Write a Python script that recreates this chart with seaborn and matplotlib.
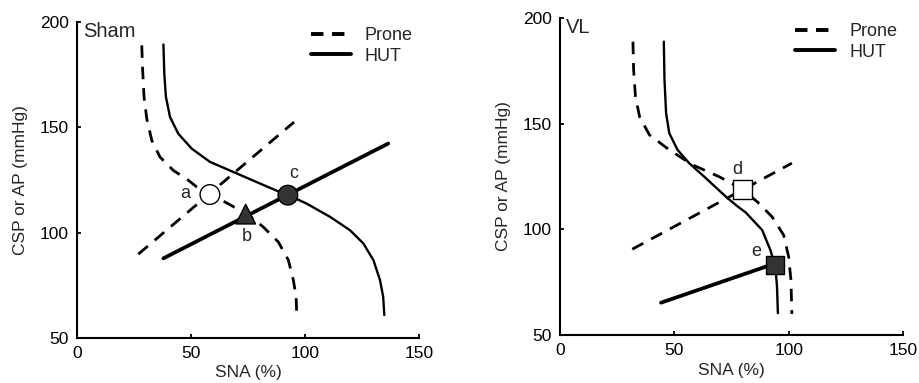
import numpy as np
import pandas as pd
import seaborn as sns
import matplotlib
matplotlib.use('Agg')
import matplotlib.pyplot as plt
from matplotlib.lines import Line2D

# Sham panel
sham_prone_x = [28.4, 28.8, 29.4, 30.6, 32.8, 36.4, 42.2, 48.8, 52.5, 58.3,
                65.0, 70.0, 74.4, 81.7, 88.3, 92.7, 94.9, 96.1, 96.4]
sham_prone_y = [188.9, 177.0, 164.4, 154.1, 143.8, 135.9, 129.6, 124.9, 121.7,
                118.1, 114.5, 111.5, 109.1, 102.7, 95.6, 87.0, 77.5, 69.6, 60.9]
sham_hut_x = [37.9, 38.3, 39.0, 40.8, 44.4, 50.3, 58.3, 68.6, 80.3, 90.5,
              92.7, 100.7, 111.0, 119.7, 125.6, 130.0, 132.9, 134.3, 134.8]
sham_hut_y = [189.3, 175.4, 164.4, 154.9, 147.0, 139.9, 133.6, 128.8, 123.3,
              118.6, 117.8, 113.8, 107.5, 101.2, 94.9, 87.0, 77.5, 69.6, 60.9]
sham_prone_ap_x = [26.9, 95.2]
sham_prone_ap_y = [89.8, 152.5]
sham_hut_ap_x = [37.9, 136.5]
sham_hut_ap_y = [87.8, 142.3]

# VL panel
vl_prone_x = [31.9, 32.2, 33.0, 34.8, 39.1, 47.8, 58.0, 69.6, 79.7, 86.2,
              92.7, 97.8, 100.0, 101.0, 101.4]
vl_prone_y = [188.8, 175.4, 162.8, 153.3, 144.7, 137.6, 130.5, 124.9, 119.0,
              113.1, 106.0, 97.3, 87.0, 76.0, 60.0]
vl_hut_x = [45.4, 45.7, 46.4, 47.8, 51.4, 56.5, 63.8, 72.5, 77.5, 81.2,
            88.4, 92.0, 94.2, 94.9, 95.3]
vl_hut_y = [188.8, 170.7, 154.9, 145.5, 137.6, 131.3, 124.2, 115.5, 111.0,
            108.0, 99.7, 90.2, 82.3, 72.9, 60.3]
vl_prone_ap_x = [31.6, 101.4]
vl_prone_ap_y = [90.6, 131.3]
vl_hut_ap_x = [44.2, 94.2]
vl_hut_ap_y = [65.3, 83.9]

# operating points
sham_pts = ['a', 'b', 'c']
sham_pts_x = [58.3, 74.0, 92.5]
sham_pts_y = [118.1, 108.8, 117.8]
sham_lbl_x = [47.7, 74.4, 94.9]
sham_lbl_y = [118.6, 98.0, 128.0]
vl_pts = ['d', 'e']
vl_pts_x = [79.8, 94.0]
vl_pts_y = [119.0, 83.1]
vl_lbl_x = [77.5, 86.0]
vl_lbl_y = [128.4, 89.4]

x_ticks = [0, 50, 100, 150]
y_ticks = [50, 100, 150, 200]

DASH = (0, (4.5, 3.2))
GREY = '#333333'

sns.set_style('ticks')
plt.rcParams['font.family'] = ['Liberation Sans', 'DejaVu Sans']


def draw_panel(ax, curves, title):
    for xs, ys, ls, lw in curves:
        sns.lineplot(x=xs, y=ys, ax=ax, sort=False, estimator=None,
                     color='black', linewidth=lw, linestyle=ls,
                     legend=False, solid_joinstyle='round')
    ax.set_xlim(0, 150)
    ax.set_ylim(50, 200)
    ax.set_xticks(x_ticks)
    ax.set_yticks(y_ticks)
    ax.tick_params(direction='in', length=3, width=1.3, labelsize=12.5,
                   colors='black', pad=6)
    for side in ['left', 'bottom']:
        ax.spines[side].set_linewidth(1.5)
        ax.spines[side].set_color('black')
    sns.despine(ax=ax)
    ax.set_xlabel('SNA (%)', fontsize=12.5, labelpad=3)
    ax.set_ylabel('CSP or AP (mmHg)', fontsize=12.5, labelpad=8)
    ax.text(0.018, 1.0, title, transform=ax.transAxes, va='top',
            ha='left', fontsize=14.5)
    handles = [Line2D([], [], color='black', lw=2.8, linestyle=(0, (3.2, 2.2))),
               Line2D([], [], color='black', lw=2.8)]
    ax.legend(handles=handles, labels=['Prone', 'HUT'], frameon=False,
              loc='upper right', bbox_to_anchor=(1.03, 1.035),
              fontsize=13, handlelength=2.2, handletextpad=0.8,
              labelspacing=0.2)


fig = plt.figure(figsize=(9.2, 3.83), dpi=100)
ax1 = fig.add_axes([0.0837, 0.1175, 0.3717, 0.8251])
ax2 = fig.add_axes([0.6087, 0.1253, 0.3728, 0.8277])

draw_panel(ax1, [(sham_prone_x, sham_prone_y, DASH, 2.0),
                 (sham_hut_x, sham_hut_y, '-', 1.7),
                 (sham_prone_ap_x, sham_prone_ap_y, DASH, 2.0),
                 (sham_hut_ap_x, sham_hut_ap_y, '-', 2.7)], 'Sham')
draw_panel(ax2, [(vl_prone_x, vl_prone_y, DASH, 2.0),
                 (vl_hut_x, vl_hut_y, '-', 1.7),
                 (vl_prone_ap_x, vl_prone_ap_y, DASH, 2.0),
                 (vl_hut_ap_x, vl_hut_ap_y, '-', 2.7)], 'VL')

# markers
sham_df = pd.DataFrame({'x': sham_pts_x, 'y': sham_pts_y, 'pt': sham_pts})
sns.scatterplot(data=sham_df, x='x', y='y', hue='pt', style='pt',
                markers={'a': 'o', 'b': '^', 'c': 'o'},
                palette={'a': 'white', 'b': GREY, 'c': GREY},
                s=200, edgecolor='black', linewidth=1.0, ax=ax1,
                legend=False, zorder=5)
vl_df = pd.DataFrame({'x': vl_pts_x, 'y': vl_pts_y, 'pt': vl_pts})
sns.scatterplot(data=vl_df, x='x', y='y', hue='pt', style='pt',
                markers={'d': 's', 'e': 's'},
                palette={'d': 'white', 'e': GREY},
                s=180, edgecolor='black', linewidth=1.0, ax=ax2,
                legend=False, zorder=5)

for name, lx, ly in zip(sham_pts, sham_lbl_x, sham_lbl_y):
    ax1.text(lx, ly, name, ha='center', va='center', fontsize=13)
for name, lx, ly in zip(vl_pts, vl_lbl_x, vl_lbl_y):
    ax2.text(lx, ly, name, ha='center', va='center', fontsize=13)

fig.savefig('out.png', dpi=100)
